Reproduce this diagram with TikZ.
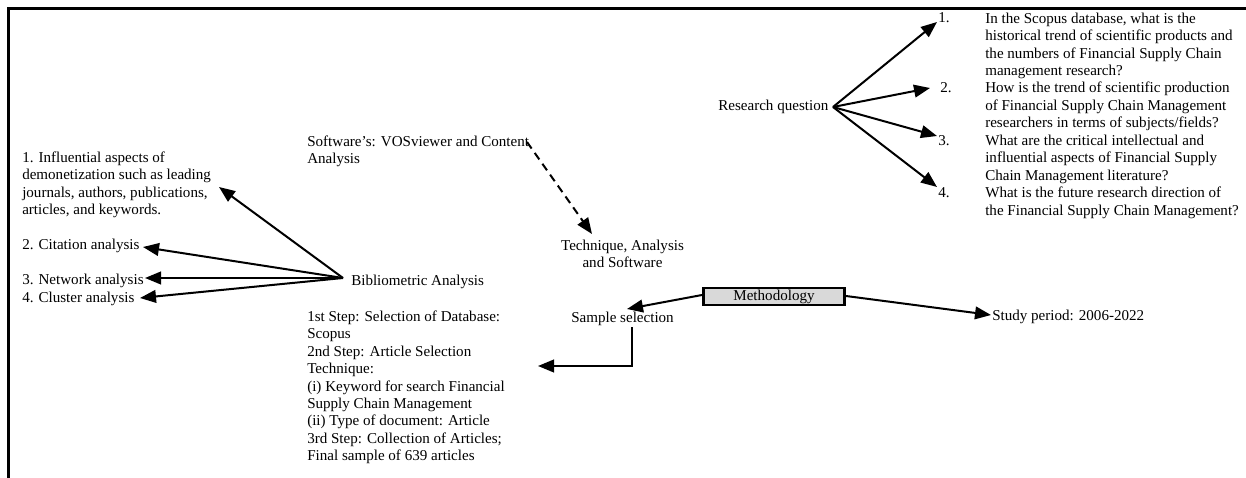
\documentclass[tikz,border=0pt]{standalone}
\usepackage{fontspec}
\setmainfont{Liberation Serif}
\usetikzlibrary{arrows.meta,calc}
\definecolor{boxgray}{HTML}{D9D9D9}
\begin{document}
\begin{tikzpicture}[x=0.75pt,y=-0.75pt,
  every node/.style={font=\fontsize{11.3}{13.09}\selectfont, inner sep=0pt},
  one/.style={anchor=base west},
  onec/.style={anchor=base},
  multi/.style={anchor=north west, align=left, yshift=9.16pt},
  multic/.style={anchor=north, align=center, yshift=9.16pt},
  arr/.style={line width=1.5pt, -{Triangle[length=12pt,width=9.5pt]}},
  dasharr/.style={arr, dash pattern=on 6pt off 4pt},
  framel/.style={line width=1.6pt},
  methbox/.style={draw, line width=1.8pt, fill=boxgray, minimum width=106pt, minimum height=13pt}
]
\useasboundingbox (0,0) rectangle (1246,478);
\draw[framel] (8.5,478) -- (8.5,8.5) -- (1246,8.5);

% left column
\node[multi] (inf) at (22,162) {\strut 1. Influential aspects of\\demonetization such as leading\\journals, authors, publications,\\articles, and keywords.};
\node[one] (cit) at (22,249) {2. Citation analysis};
\node[one] (net) at (22,284) {3. Network analysis};
\node[one] (clu) at (22,302) {4. Cluster analysis};

% middle
\node[multi] (sw) at (307,146) {\strut Software’s: VOSviewer and Content\\Analysis};
\node[one] (bib) at (351,285) {Bibliometric Analysis};
\node[multi] (steps) at (307,321) {\strut 1st Step: Selection of Database:\\Scopus\\2nd Step: Article Selection\\Technique:\\(i) Keyword for search Financial\\Supply Chain Management\\(ii) Type of document: Article\\3rd Step: Collection of Articles;\\Final sample of 639 articles};
\node[multic] (tech) at (622.5,250) {\strut Technique, Analysis\\and Software};
\node[onec] (samp) at (622.5,322) {Sample selection};
\node[methbox] (meth) at (774,296.5) {Methodology};
\node[one] (study) at (992,320) {Study period: 2006-2022};

% research questions
\node[one] (rq) at (718,110) {Research question};
\node[one] (n1) at (938,23) {1.};
\node[one] (n2) at (940,92.5) {2.};
\node[one] (n3) at (938,145) {3.};
\node[one] (n4) at (938,197.3) {4.};
\node[multi] (q1) at (985,23) {\strut In the Scopus database, what is the\\historical trend of scientific products and\\the numbers of Financial Supply Chain\\management research?};
\node[multi] (q2) at (985,92.5) {\strut How is the trend of scientific production\\of Financial Supply Chain Management\\researchers in terms of subjects/fields?};
\node[multi] (q3) at (985,145) {\strut What are the critical intellectual and\\influential aspects of Financial Supply\\Chain Management literature?};
\node[multi] (q4) at (985,197.3) {\strut What is the future research direction of\\the Financial Supply Chain Management?};

% connector end points
\coordinate (bibo) at (343,278);
\coordinate (tinf) at (219,187);
\coordinate (tcit) at (143,247);
\coordinate (tnet) at (145,278);
\coordinate (tclu) at (140,298);
\coordinate (swo) at (527,142);
\coordinate (ttech) at (592,234);
\coordinate (metl) at (702,295);
\coordinate (tsamp) at (627,309);
\coordinate (sampo) at (632,327);
\coordinate (elb) at (632,366);
\coordinate (tsteps) at (538,366);
\coordinate (metr) at (846,296);
\coordinate (tstudy) at (991,315);
\coordinate (rqo) at (833,107);
\coordinate (t1) at (937,22);
\coordinate (t2) at (930,88);
\coordinate (t3) at (937,136);
\coordinate (t4) at (937,187);

\draw[arr] (bibo) -- (tinf);
\draw[arr] (bibo) -- (tcit);
\draw[arr] (bibo) -- (tnet);
\draw[arr] (bibo) -- (tclu);
\draw[dasharr] (swo) -- (ttech);
\draw[arr] (metl) -- (tsamp);
\draw[arr] (sampo) -- (elb) -- (tsteps);
\draw[arr] (metr) -- (tstudy);
\draw[arr] (rqo) -- (t1);
\draw[arr] (rqo) -- (t2);
\draw[arr] (rqo) -- (t3);
\draw[arr] (rqo) -- (t4);
\end{tikzpicture}
\end{document}
